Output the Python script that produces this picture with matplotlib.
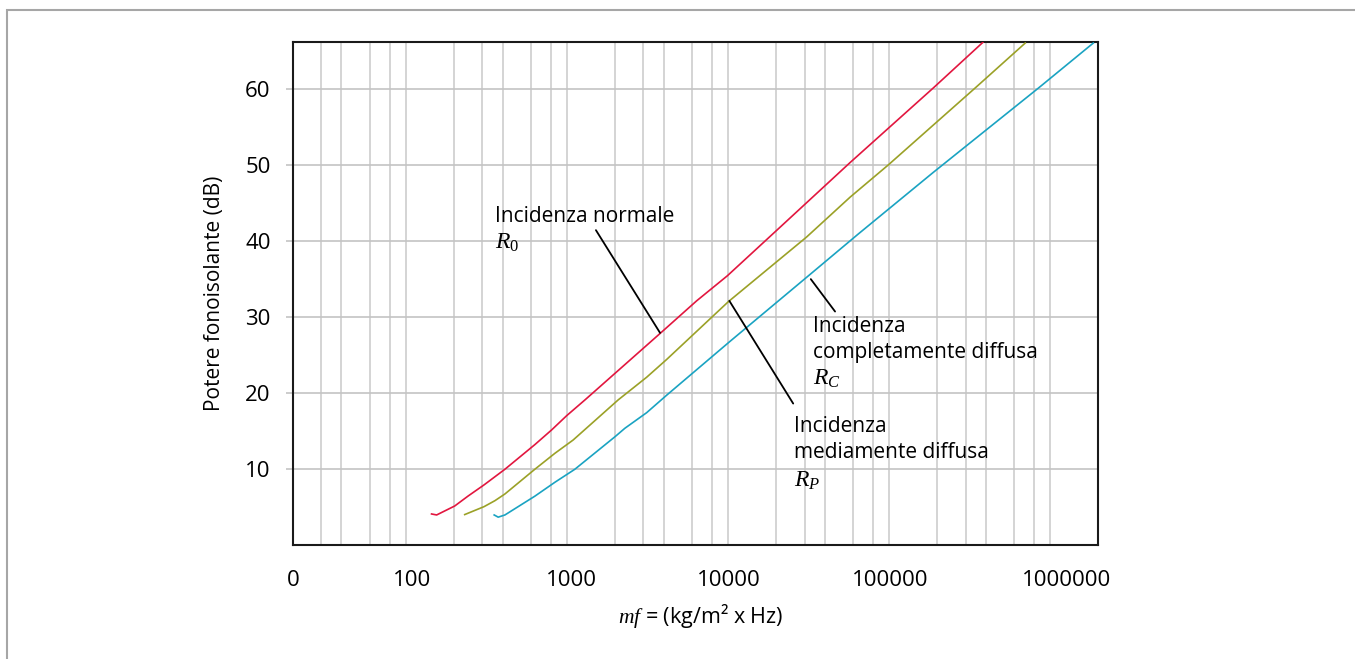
import matplotlib.pyplot as plt
from matplotlib.patches import Rectangle
from matplotlib.ticker import FixedLocator, NullFormatter

plt.rcParams['font.family'] = ['Open Sans', 'DejaVu Sans']
plt.rcParams['mathtext.fontset'] = 'custom'
plt.rcParams['mathtext.it'] = 'Liberation Serif:italic'
plt.rcParams['mathtext.rm'] = 'Liberation Serif'

# curve readings (mf, dB)
mf_normale = [145, 156, 202, 245, 307, 414, 635, 807, 1000, 1300, 3890, 6410,
              9950, 19960, 57600, 189000, 384000]
R_normale = [4.08, 3.95, 5.13, 6.45, 7.9, 9.96, 13.2, 15.13, 17.0, 19.08, 28.0,
             32.1, 35.4, 41.3, 50.3, 60.1, 66.1]

mf_media = [233, 307, 359, 414, 635, 846, 1097, 2090, 3140, 4180, 10100, 30900,
            57600, 99600, 344000, 703000]
R_media = [4.0, 5.04, 5.83, 6.71, 9.96, 12.06, 13.8, 19.08, 22.06, 24.4, 32.0,
           40.5, 45.75, 50.0, 60.1, 66.0]

mf_completa = [355, 376, 414, 635, 846, 1125, 2000, 2300, 3140, 4180, 10300,
               13100, 30900, 64700, 189000, 851000, 1860000]
R_completa = [3.95, 3.66, 3.95, 6.42, 8.25, 9.96, 14.25, 15.35, 17.4, 19.7,
              26.75, 28.6, 35.2, 40.9, 49.0, 60.1, 66.0]

xtick_labels = ['0', '100', '1000', '10000', '100000', '1000000']
ytick_vals = [10, 20, 30, 40, 50, 60]

W, H = 1355, 659


def px(x, y):
    return x / W, 1 - y / H


fig = plt.figure(figsize=(W / 100, H / 100), dpi=100)
ax = fig.add_axes([0.2162, 0.173, 0.5944, 0.7628])

ax.plot(mf_normale, R_normale, color='#e2163f', lw=1.2, zorder=3)
ax.plot(mf_media, R_media, color='#9ba127', lw=1.2, zorder=3)
ax.plot(mf_completa, R_completa, color='#1aa3c2', lw=1.2, zorder=3)

ax.set_xscale('log')
ax.set_xlim(20, 2.0e6)
ax.set_ylim(0, 66.1)

# vertical grid: 2,3,4,6,8,10 per decade
grid_x = []
for d in [10, 100, 1000, 10000, 100000, 1000000]:
    for k in [1, 2, 3, 4, 6, 8]:
        v = d * k
        if 20 < v < 2.0e6:
            grid_x.append(v)
ax.xaxis.set_minor_locator(FixedLocator(grid_x))
ax.xaxis.set_minor_formatter(NullFormatter())
ax.grid(True, which='minor', axis='x', color='#cdcdcd', lw=1.2)

ax.xaxis.set_major_locator(FixedLocator([20, 110, 1075, 10150, 101500, 1.27e6]))
ax.set_xticklabels(xtick_labels)
ax.tick_params(axis='x', which='both', length=0, pad=18, labelsize=16)

ax.set_yticks(ytick_vals)
ax.grid(True, which='major', axis='y', color='#c4c4c4', lw=1.2)
ax.tick_params(axis='y', length=5, width=1.2, color='#c4c4c4', pad=11,
               labelsize=16)

for s in ax.spines.values():
    s.set_linewidth(1.5)
    s.set_color('#1a1a1a')

ax.set_ylabel('Potere fonoisolante (dB)', fontsize=15)
ax.yaxis.set_label_coords(-0.0844, 0.5)
ax.set_xlabel(r'$mf$ = (kg/m² x Hz)', fontsize=15.5)
ax.xaxis.set_label_coords(0.5064, -0.113)

# annotations
fs = 15
fig.text(*px(495, 221.7), 'Incidenza normale', fontsize=fs, va='baseline')
fig.text(*px(495, 248.3), r'$R_{\mathit{0}}$', fontsize=fs + 2, va='baseline')

fig.text(*px(813.3, 332.3), 'Incidenza', fontsize=fs, va='baseline')
fig.text(*px(813.3, 358.3), 'completamente diffusa', fontsize=fs, va='baseline')
fig.text(*px(813.3, 385), r'$R_C$', fontsize=fs + 2, va='baseline')

fig.text(*px(794, 432.3), 'Incidenza', fontsize=fs, va='baseline')
fig.text(*px(794, 458.3), 'mediamente diffusa', fontsize=fs, va='baseline')
fig.text(*px(794, 486.7), r'$R_P$', fontsize=fs + 2, va='baseline')

leader = dict(arrowstyle='-', color='black', lw=1.3, shrinkA=0, shrinkB=0)
ax.annotate('', xy=(3800, 27.9), xytext=(1520, 41.4), arrowprops=leader)
ax.annotate('', xy=(46400, 30.7), xytext=(32800, 34.96), arrowprops=leader)
ax.annotate('', xy=(25500, 18.6), xytext=(10240, 32.1), arrowprops=leader)

# outer frame
fig.patches.append(Rectangle((7.5 / W, -0.1), 1.2, (H - 9.5) / H + 0.1,
                             transform=fig.transFigure, fill=False,
                             edgecolor='#a6a6a6', lw=1.5))

fig.savefig('out.png', dpi=100)
